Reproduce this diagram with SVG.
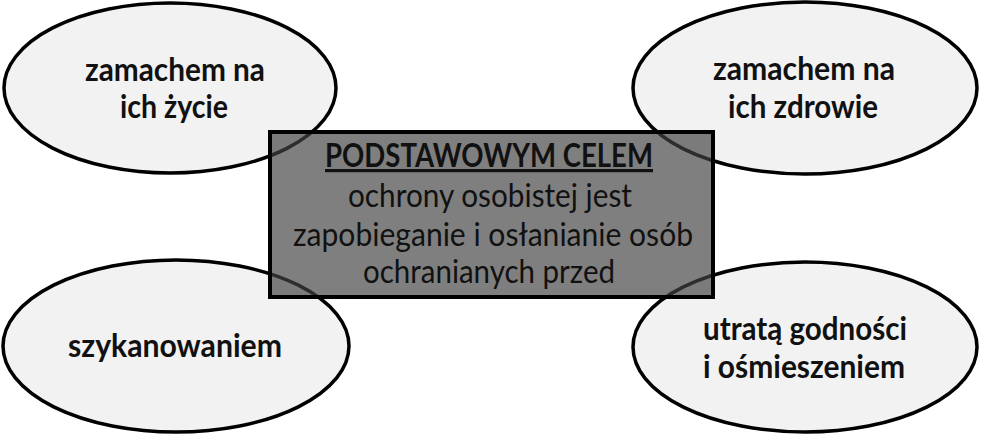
<svg xmlns="http://www.w3.org/2000/svg" width="981" height="434" viewBox="0 0 981 434">
<style>
.ell{fill:#f2f2f2;stroke:#000;stroke-width:3.5}
.box{fill:#424242;fill-opacity:0.68;stroke:#000;stroke-width:4}
.bt{font-family:Lato,"Open Sans","Liberation Sans",sans-serif;font-weight:bold;font-size:32px;fill:#111;text-anchor:middle}
.rt{font-family:Lato,"Open Sans","Liberation Sans",sans-serif;font-size:32px;fill:#111;text-anchor:middle}
</style>
<rect width="981" height="434" fill="#fff"/>
<g id="connectors"></g>
<g id="node-zycie">
<ellipse class="ell" cx="170" cy="88" rx="166" ry="85"/>
<text class="bt" x="175" y="81" textLength="180" lengthAdjust="spacingAndGlyphs">zamachem na</text>
<text class="bt" x="174" y="118" textLength="108" lengthAdjust="spacingAndGlyphs">ich życie</text>
</g>
<g id="node-zdrowie">
<ellipse class="ell" cx="805" cy="88" rx="172" ry="86"/>
<text class="bt" x="804" y="80" textLength="182" lengthAdjust="spacingAndGlyphs">zamachem na</text>
<text class="bt" x="803" y="118" textLength="150" lengthAdjust="spacingAndGlyphs">ich zdrowie</text>
</g>
<g id="node-szykanowanie">
<ellipse class="ell" cx="176" cy="346" rx="173" ry="86"/>
<text class="bt" x="175" y="357" textLength="214" lengthAdjust="spacingAndGlyphs">szykanowaniem</text>
</g>
<g id="node-godnosc">
<ellipse class="ell" cx="805" cy="347" rx="172" ry="85"/>
<text class="bt" x="805" y="340" textLength="204" lengthAdjust="spacingAndGlyphs">utratą godności</text>
<text class="bt" x="804" y="378" textLength="202" lengthAdjust="spacingAndGlyphs">i ośmieszeniem</text>
</g>
<g id="node-cel">
<rect class="box" x="270" y="132" width="443" height="165"/>
<text class="bt" x="489" y="167" textLength="328" lengthAdjust="spacingAndGlyphs" text-decoration="underline">PODSTAWOWYM CELEM</text>
<text class="rt" x="490" y="207" textLength="284" lengthAdjust="spacingAndGlyphs">ochrony osobistej jest</text>
<text class="rt" x="493" y="246" textLength="400" lengthAdjust="spacingAndGlyphs">zapobieganie i osłanianie osób</text>
<text class="rt" x="489" y="283" textLength="252" lengthAdjust="spacingAndGlyphs">ochranianych przed</text>
</g>
</svg>
